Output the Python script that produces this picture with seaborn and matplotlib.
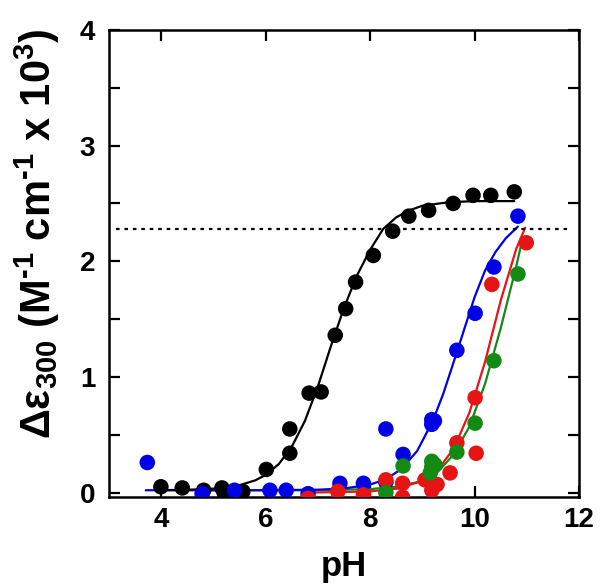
import matplotlib
matplotlib.use("Agg")
import matplotlib.pyplot as plt
import seaborn as sns
import pandas as pd
import numpy as np

# ---- measured data points ----
black_ph = [3.99, 4.40, 4.81, 5.16, 5.20, 5.56, 6.01, 6.46, 6.46, 6.83, 7.06, 7.33, 7.53, 7.72, 8.06, 8.43, 8.74, 9.12, 9.59, 9.97, 10.31, 10.76]
black_de = [0.05, 0.04, 0.02, 0.04, 0.00, 0.01, 0.20, 0.34, 0.55, 0.86, 0.87, 1.36, 1.59, 1.82, 2.05, 2.26, 2.39, 2.44, 2.50, 2.57, 2.57, 2.60]

blue_ph = [3.73, 4.78, 5.40, 6.08, 6.39, 6.81, 7.42, 7.87, 8.30, 8.30, 8.63, 9.18, 9.23, 9.18, 9.66, 10.01, 10.37, 10.83]
blue_de = [0.26, -0.01, 0.02, 0.02, 0.02, -0.01, 0.08, 0.08, 0.55, 0.09, 0.33, 0.63, 0.62, 0.59, 1.23, 1.55, 1.95, 2.39]

red_ph = [6.81, 7.38, 7.87, 8.30, 8.62, 8.62, 9.05, 9.18, 9.28, 9.53, 9.66, 10.01, 10.03, 10.33, 10.99]
red_de = [-0.05, 0.01, -0.02, 0.11, 0.08, -0.04, 0.11, 0.02, 0.07, 0.17, 0.43, 0.82, 0.34, 1.80, 2.16]

green_ph = [8.30, 8.63, 9.18, 9.18, 9.24, 9.15, 9.66, 10.01, 10.37, 10.83]
green_de = [0.00, 0.23, 0.27, 0.22, 0.24, 0.17, 0.35, 0.60, 1.14, 1.89]

# ---- fitted curves ----
black_fit_ph = [3.9, 4.5, 5.0, 5.5, 5.8, 6.0, 6.25, 6.5, 6.75, 7.0, 7.25, 7.5, 7.75, 8.0, 8.25, 8.5, 8.75, 9.0, 9.5, 10.0, 10.76]
black_fit_de = [0.02, 0.024, 0.034, 0.064, 0.106, 0.153, 0.247, 0.398, 0.62, 0.92, 1.27, 1.60, 1.88, 2.10, 2.28, 2.38, 2.44, 2.48, 2.51, 2.52, 2.52]

blue_fit_ph = [3.7, 5.0, 6.0, 7.0, 7.5, 8.0, 8.3, 8.6, 8.9, 9.2, 9.4, 9.6, 9.8, 10.0, 10.2, 10.4, 10.6, 10.83]
blue_fit_de = [0.02, 0.02, 0.02, 0.025, 0.035, 0.069, 0.116, 0.204, 0.36, 0.62, 0.855, 1.13, 1.41, 1.69, 1.92, 2.08, 2.20, 2.30]

red_fit_ph = [6.8, 7.5, 8.0, 8.5, 9.0, 9.3, 9.6, 9.9, 10.2, 10.5, 10.8, 10.97]
red_fit_de = [0.0, 0.005, 0.01, 0.033, 0.10, 0.20, 0.38, 0.69, 1.13, 1.66, 2.11, 2.29]

green_fit_ph = [4.7, 6.0, 7.0, 8.0, 8.5, 9.0, 9.3, 9.6, 9.9, 10.2, 10.5, 10.8, 10.9]
green_fit_de = [0.02, 0.02, 0.02, 0.03, 0.05, 0.10, 0.18, 0.33, 0.57, 0.94, 1.42, 1.96, 2.16]

ref_level = 2.28

x_ticks = [4, 6, 8, 10, 12]
y_ticks = [0, 1, 2, 3, 4]

colors = {"black": "#000000", "blue": "#0000e6", "red": "#e61414", "green": "#138a13"}

pts = pd.concat([
    pd.DataFrame({"pH": black_ph, "de": black_de, "set": "black"}),
    pd.DataFrame({"pH": blue_ph, "de": blue_de, "set": "blue"}),
    pd.DataFrame({"pH": red_ph, "de": red_de, "set": "red"}),
    pd.DataFrame({"pH": green_ph, "de": green_de, "set": "green"}),
], ignore_index=True)

fits = {
    "black": (black_fit_ph, black_fit_de),
    "blue": (blue_fit_ph, blue_fit_de),
    "red": (red_fit_ph, red_fit_de),
    "green": (green_fit_ph, green_fit_de),
}

sns.set_theme(style="white")
plt.rcParams["font.family"] = ["Liberation Sans", "DejaVu Sans"]
plt.rcParams["font.weight"] = "bold"
plt.rcParams["text.color"] = "black"
plt.rcParams["axes.labelcolor"] = "black"
plt.rcParams["xtick.color"] = "black"
plt.rcParams["ytick.color"] = "black"
plt.rcParams["mathtext.fontset"] = "custom"
plt.rcParams["mathtext.rm"] = "Liberation Sans:bold"
plt.rcParams["mathtext.bf"] = "Liberation Sans:bold"
plt.rcParams["mathtext.it"] = "Liberation Sans:bold"
plt.rcParams["mathtext.default"] = "bf"

fig = plt.figure(figsize=(6.0, 5.87), dpi=100)
ax = fig.add_axes([0.182, 0.153, 0.783, 0.796])

for name in ["green", "red", "blue", "black"]:
    fx, fy = fits[name]
    sns.lineplot(x=fx, y=fy, ax=ax, color=colors[name], lw=1.6, sort=False, estimator=None)

for name in ["black", "blue", "red", "green"]:
    sub = pts[pts["set"] == name]
    sns.scatterplot(data=sub, x="pH", y="de", ax=ax, color=colors[name], s=125,
                    edgecolor="none", linewidth=0, zorder=3)

ax.axhline(ref_level, xmin=0.015, xmax=0.985, color="black", lw=1.6,
           linestyle=(0, (1.6, 2.2)), zorder=2)

ax.set_xlim(3, 12)
ax.set_ylim(-0.04, 4)
ax.set_xticks(x_ticks)
ax.set_yticks(y_ticks)
ax.set_yticks(np.arange(0.5, 4, 1.0), minor=True)
ax.set_xticklabels([str(t) for t in x_ticks])
ax.set_yticklabels([str(t) for t in y_ticks])

ax.tick_params(axis="both", which="both", direction="in", width=1.6,
               top=True, right=True, bottom=True, left=True, colors="black")
ax.tick_params(axis="both", which="major", length=8, labelsize=20)
ax.tick_params(axis="y", which="minor", length=8)
ax.tick_params(axis="x", which="major", pad=7)
ax.tick_params(axis="y", which="major", pad=10)
for lab in ax.get_xticklabels() + ax.get_yticklabels():
    lab.set_fontweight("bold")

for sp in ax.spines.values():
    sp.set_linewidth(1.8)
    sp.set_color("black")

ax.set_xlabel("pH", fontsize=25, fontweight="bold", labelpad=12)
ax.set_ylabel(r"Δε$_{300}$ (M$^{\text{-1}}$ cm$^{\text{-1}}$ x 10$^{3}$)", fontsize=30, fontweight="bold")
ax.yaxis.set_label_coords(-0.10, 0.565)

fig.savefig("out.png", dpi=100, facecolor="white")
